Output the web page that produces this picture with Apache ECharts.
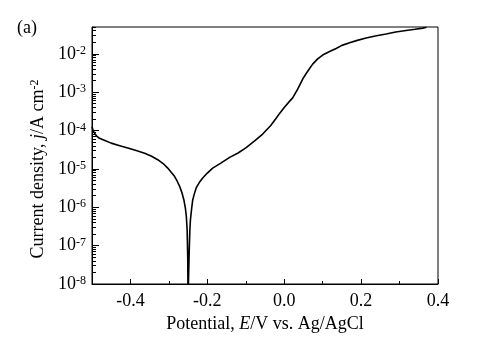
<!DOCTYPE html>
<html>
<head>
<meta charset="utf-8">
<script src="https://cdn.jsdelivr.net/npm/echarts@6/dist/echarts.min.js"></script>
<style>
  html, body { margin: 0; padding: 0; background: #fff; }
  #chart { width: 493px; height: 353px; }
</style>
</head>
<body>
<div id="chart"></div>
<script>
// polarization curve, potential in V vs Ag/AgCl, current density in A cm^-2
const potential = [
  -0.500, -0.497, -0.4935, -0.488, -0.4805, -0.465, -0.450, -0.430, -0.407, -0.385,
  -0.363, -0.345, -0.329, -0.315, -0.303, -0.293, -0.285, -0.278, -0.272, -0.266,
  -0.261, -0.257, -0.2545, -0.2525, -0.251, -0.2502, -0.2485, -0.247, -0.2455, -0.244,
  -0.241, -0.238, -0.234, -0.229, -0.221, -0.212, -0.200, -0.186, -0.165, -0.142,
  -0.120, -0.099, -0.077, -0.056, -0.035, -0.021, -0.012, 0.000, 0.012, 0.022,
  0.035, 0.048, 0.061, 0.074, 0.087, 0.100, 0.118, 0.135, 0.150, 0.170,
  0.190, 0.213, 0.240, 0.265, 0.290, 0.317, 0.340, 0.361, 0.370
];
const current = [
  1.26e-4, 1.0e-4, 8.5e-5, 7.2e-5, 6.3e-5, 5.4e-5, 4.7e-5, 4.1e-5, 3.5e-5, 3.0e-5,
  2.57e-5, 2.14e-5, 1.74e-5, 1.38e-5, 1.05e-5, 7.9e-6, 6.3e-6, 4.7e-6, 3.5e-6, 2.4e-6,
  1.55e-6, 9.3e-7, 5.6e-7, 2.5e-7, 5e-8, 4e-9, 4e-9, 8e-8, 2.5e-7, 4.7e-7,
  8.9e-7, 1.55e-6, 2.2e-6, 3.2e-6, 4.4e-6, 5.8e-6, 7.8e-6, 1.05e-5, 1.41e-5, 2.0e-5,
  2.6e-5, 3.6e-5, 5.4e-5, 8.1e-5, 1.35e-4, 2.1e-4, 2.8e-4, 4.0e-4, 5.5e-4, 7.1e-4,
  1.2e-3, 2.2e-3, 3.5e-3, 5.4e-3, 7.4e-3, 9.3e-3, 1.15e-2, 1.38e-2, 1.66e-2, 1.95e-2,
  2.24e-2, 2.57e-2, 2.95e-2, 3.3e-2, 3.7e-2, 4.07e-2, 4.37e-2, 4.68e-2, 4.9e-2
];

const xMajorTicks = [-0.4, -0.2, 0.0, 0.2, 0.4];
const xMinorTicks = [-0.3, -0.1, 0.1, 0.3];
const yDecades = [1e-8, 1e-7, 1e-6, 1e-5, 1e-4, 1e-3, 1e-2];
const yMinorSteps = [2, 3, 4, 5, 6, 7, 8, 9];

const yMinorTicks = [];
yDecades.forEach((d) => yMinorSteps.forEach((m) => yMinorTicks.push(d * m)));

const FONT = "'Liberation Serif', 'Times New Roman', serif";

const chart = echarts.init(document.getElementById("chart"));

chart.setOption({
  animation: false,
  textStyle: { fontFamily: FONT, color: "#000" },
  grid: {
    left: 92, right: 55, top: 27, bottom: 69,
    show: true, borderColor: "#000", borderWidth: 1,
  },
  graphic: [
    {
      type: "text", left: 17, top: 19,
      style: { text: "(a)", font: "18px " + FONT, fill: "#000" },
    },
  ],
  xAxis: [
    {
      type: "value", min: -0.5, max: 0.4,
      name: "{n|Potential, }{i|E}{n|/V vs. Ag/AgCl}",
      nameLocation: "middle", nameGap: 26,
      nameTextStyle: {
        rich: {
          n: { fontSize: 18, fontFamily: FONT, color: "#000" },
          i: { fontSize: 18, fontFamily: FONT, fontStyle: "italic", color: "#000" },
        },
      },
      axisLine: { show: true, onZero: false, lineStyle: { color: "#000", width: 1 } },
      axisTick: { inside: true, length: 5, customValues: xMajorTicks, lineStyle: { color: "#000" } },
      axisLabel: {
        customValues: xMajorTicks, margin: 8, fontSize: 18, fontFamily: FONT, color: "#000",
        formatter: (v) => (v < 0 ? "-" : "") + Math.abs(v).toFixed(1),
      },
      splitLine: { show: false },
    },
    {
      type: "value", min: -0.5, max: 0.4, position: "bottom",
      axisLine: { show: false, onZero: false },
      axisTick: { inside: true, length: 3, customValues: xMinorTicks, lineStyle: { color: "#000" } },
      axisLabel: { show: false },
      splitLine: { show: false },
    },
  ],
  yAxis: [
    {
      type: "log", logBase: 10, min: 1e-8, max: 0.05,
      name: "{n|Current density, }{i|j}{n|/A cm}{s|-2}",
      nameLocation: "middle", nameGap: 45, nameRotate: 90,
      nameTextStyle: {
        padding: [0, 27, 0, 0],
        rich: {
          n: { fontSize: 18, fontFamily: FONT, color: "#000" },
          i: { fontSize: 18, fontFamily: FONT, fontStyle: "italic", color: "#000" },
          s: { fontSize: 12, fontFamily: FONT, color: "#000", verticalAlign: "top" },
        },
      },
      axisLine: { show: true, onZero: false, lineStyle: { color: "#000", width: 1 } },
      axisTick: { inside: true, length: 7, customValues: yDecades, lineStyle: { color: "#000" } },
      axisLabel: {
        customValues: yDecades, margin: 6,
        formatter: (v) => "{b|10}{s|" + Math.round(Math.log10(v)) + "}",
        rich: {
          b: { fontSize: 18, fontFamily: FONT, color: "#000" },
          s: { fontSize: 12, fontFamily: FONT, color: "#000", verticalAlign: "top" },
        },
      },
      splitLine: { show: false },
    },
    {
      type: "log", logBase: 10, min: 1e-8, max: 0.05, position: "left",
      axisLine: { show: false, onZero: false },
      axisTick: { inside: true, length: 4, customValues: yMinorTicks, lineStyle: { color: "#000" } },
      axisLabel: { show: false },
      splitLine: { show: false },
    },
  ],
  series: [
    {
      type: "line",
      xAxisIndex: 0,
      yAxisIndex: 0,
      data: potential.map((e, i) => [e, current[i]]),
      showSymbol: false,
      lineStyle: { color: "#000", width: 1.6 },
      clip: true,
    },
  ],
});

window.addEventListener("resize", () => {
  chart.resize();
});
</script>
</body>
</html>
